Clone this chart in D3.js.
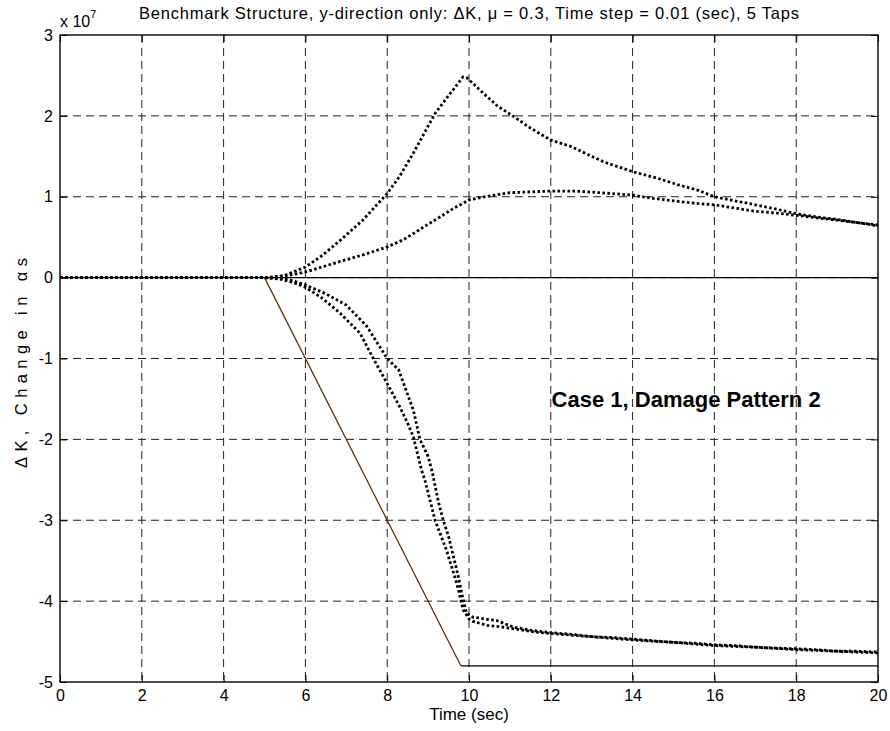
<!DOCTYPE html>
<html>
<head>
<meta charset="utf-8">
<script src="https://cdn.jsdelivr.net/npm/d3@7"></script>
<style>
  body { margin: 0; background: #fff; }
  svg { font-family: "Liberation Sans", Arial, sans-serif; }
</style>
</head>
<body>
<svg id="chart" width="890" height="731"></svg>
<script>
// values in units of 1e7, time in seconds
const xTicks = [0, 2, 4, 6, 8, 10, 12, 14, 16, 18, 20];
const yTicks = [3, 2, 1, 0, -1, -2, -3, -4, -5];

// tap estimates (dotted)
const tapA = [[0,0],[4.9,0],[5.2,0.005],[5.5,0.03],[6,0.13],[6.4,0.27],[6.85,0.46],[7.4,0.71],[8,1.04],[8.3,1.25],[8.64,1.54],[8.9,1.78],[9.17,2.03],[9.5,2.25],[9.7,2.38],[9.85,2.48],[9.95,2.47],[10.1,2.4],[10.35,2.28],[10.7,2.12],[11.1,1.99],[11.5,1.85],[12,1.70],[12.5,1.62],[13,1.50],[13.3,1.43],[14,1.31],[14.6,1.23],[15.1,1.15],[15.6,1.08],[16,1.0],[16.5,0.95],[17,0.9],[17.4,0.86],[18,0.79],[18.5,0.75],[19,0.72],[19.5,0.68],[20,0.64]];
const tapB = [[0,0],[5,0],[5.3,0.01],[5.62,0.03],[6,0.07],[6.4,0.13],[6.85,0.2],[7.4,0.28],[8,0.38],[8.4,0.47],[8.72,0.57],[9,0.66],[9.29,0.75],[9.6,0.85],[10,0.96],[10.5,1.01],[11,1.05],[11.5,1.06],[12,1.07],[12.6,1.07],[13.2,1.05],[14,1.02],[14.5,0.98],[15,0.95],[15.5,0.92],[16,0.9],[16.5,0.86],[17,0.82],[17.5,0.8],[18,0.77],[18.5,0.74],[19,0.71],[19.5,0.68],[20,0.65]];
const tapC = [[0,0],[5,0],[5.4,-0.01],[5.7,-0.04],[6,-0.09],[6.5,-0.2],[7,-0.34],[7.5,-0.6],[8,-1.0],[8.28,-1.14],[8.64,-1.64],[8.8,-2.0],[9.0,-2.21],[9.1,-2.4],[9.25,-2.77],[9.37,-3.0],[9.5,-3.2],[9.62,-3.45],[9.75,-3.72],[9.82,-3.9],[9.94,-4.15],[10.1,-4.2],[10.27,-4.21],[10.5,-4.23],[10.68,-4.24],[11.08,-4.32],[11.5,-4.36],[12,-4.39],[12.5,-4.41],[13,-4.44],[13.5,-4.45],[14,-4.47],[14.5,-4.49],[15,-4.51],[15.5,-4.52],[16,-4.54],[16.5,-4.55],[17,-4.57],[17.5,-4.58],[18,-4.59],[18.5,-4.6],[19,-4.62],[19.5,-4.62],[20,-4.63]];
const tapD = [[0,0],[5,0],[5.4,-0.02],[5.7,-0.06],[6,-0.12],[6.4,-0.25],[6.85,-0.44],[7.34,-0.69],[7.66,-1.0],[8,-1.31],[8.31,-1.6],[8.5,-1.8],[8.64,-1.97],[8.84,-2.38],[8.92,-2.5],[9.17,-3.0],[9.45,-3.37],[9.7,-3.78],[9.86,-4.11],[10.0,-4.22],[10.1,-4.25],[10.44,-4.3],[10.8,-4.32],[11.2,-4.35],[11.6,-4.38],[12,-4.4],[12.5,-4.42],[13,-4.44],[14,-4.48],[15,-4.51],[16,-4.55],[17,-4.57],[18,-4.6],[19,-4.62],[20,-4.64]];

// true damage (solid)
const trueRamp = [[5,0],[9.8,-4.8]];
const trueFlat = [[9.8,-4.8],[20,-4.8]];
const trueZero = [[0,0],[20,0]];

const W = 890, H = 731;
const margin = { top: 35, right: 12, bottom: 49, left: 60 };
const innerW = W - margin.left - margin.right;
const innerH = H - margin.top - margin.bottom;

const svg = d3.select('#chart');
const g = svg.append('g').attr('transform', `translate(${margin.left},${margin.top})`);

const x = d3.scaleLinear().domain([0, 20]).range([0, innerW]);
const y = d3.scaleLinear().domain([-5, 3]).range([innerH, 0]);

/*
 * Grid
 */
g.append('g').selectAll('line')
  .data(xTicks.slice(1, -1))
  .join('line')
  .attr('x1', d => x(d)).attr('x2', d => x(d))
  .attr('y1', 0).attr('y2', innerH)
  .attr('stroke', '#222').attr('stroke-width', 1)
  .attr('stroke-dasharray', '8,5');

g.append('g').selectAll('line')
  .data(yTicks.slice(1, -1))
  .join('line')
  .attr('y1', d => y(d)).attr('y2', d => y(d))
  .attr('x1', 0).attr('x2', innerW)
  .attr('stroke', '#222').attr('stroke-width', 1)
  .attr('stroke-dasharray', '8,5');

/*
 * Lines
 */
const line = d3.line().x(d => x(d[0])).y(d => y(d[1]));

g.append('path').datum(trueZero).attr('d', line)
  .attr('fill', 'none').attr('stroke', '#000').attr('stroke-width', 1.2);
g.append('path').datum(trueRamp).attr('d', line)
  .attr('fill', 'none').attr('stroke', '#4a2a0c').attr('stroke-width', 1.2);
g.append('path').datum(trueFlat).attr('d', line)
  .attr('fill', 'none').attr('stroke', '#000').attr('stroke-width', 1.2);

[tapA, tapB, tapC, tapD].forEach(series => {
  g.append('path').datum(series).attr('d', line)
    .attr('fill', 'none')
    .attr('stroke', '#000')
    .attr('stroke-width', 2.8)
    .attr('stroke-dasharray', '2.6,2.4');
});

/*
 * Axes (ticks inward on all four sides)
 */
const tickLen = 7;
const fmt = d => d3.format('d')(d).replace('−', '-');

g.append('g').attr('transform', `translate(0,${innerH})`)
  .call(d3.axisBottom(x).tickValues(xTicks).tickSizeInner(-tickLen).tickSizeOuter(0).tickPadding(8).tickFormat(fmt))
  .call(a => a.select('.domain').remove());
g.append('g')
  .call(d3.axisTop(x).tickValues(xTicks).tickSizeInner(-tickLen).tickSizeOuter(0).tickFormat(''))
  .call(a => a.select('.domain').remove());
g.append('g')
  .call(d3.axisLeft(y).tickValues(yTicks).tickSizeInner(-tickLen).tickSizeOuter(0).tickPadding(7).tickFormat(fmt))
  .call(a => a.select('.domain').remove());
g.append('g').attr('transform', `translate(${innerW},0)`)
  .call(d3.axisRight(y).tickValues(yTicks).tickSizeInner(-tickLen).tickSizeOuter(0).tickFormat(''))
  .call(a => a.select('.domain').remove());

g.selectAll('.tick line').attr('stroke', '#000').attr('stroke-width', 1);
g.selectAll('.tick text')
  .attr('fill', '#000')
  .style('font-family', '"Liberation Sans", Arial, sans-serif')
  .style('font-size', '16px');

// box
g.append('rect')
  .attr('width', innerW).attr('height', innerH)
  .attr('fill', 'none').attr('stroke', '#000').attr('stroke-width', 1.4);

/*
 * Text
 */
svg.append('text')
  .attr('x', margin.left + innerW / 2).attr('y', 19)
  .attr('text-anchor', 'middle')
  .attr('textLength', 660).attr('lengthAdjust', 'spacing')
  .style('font-size', '16.5px')
  .text('Benchmark Structure, y-direction only: ΔK, μ = 0.3, Time step = 0.01 (sec), 5 Taps');

const exp = svg.append('text')
  .attr('x', margin.left).attr('y', 27)
  .style('font-size', '16px');
exp.append('tspan').text('x 10');
exp.append('tspan').attr('dy', -9).style('font-size', '11px').text('7');

svg.append('text')
  .attr('x', margin.left + innerW / 2).attr('y', 720)
  .attr('text-anchor', 'middle')
  .style('font-size', '17px')
  .text('Time (sec)');

// y label: the original's tex rendering spreads it over ~210px
svg.append('text')
  .attr('transform', `translate(27,363) rotate(-90)`)
  .attr('text-anchor', 'middle')
  .attr('textLength', 210).attr('lengthAdjust', 'spacing')
  .style('font-size', '16.5px')
  .text('ΔK, Change in αs');

g.append('text')
  .attr('x', x(12.02)).attr('y', y(-1.6))
  .style('font-size', '22px').style('font-weight', 'bold')
  .text('Case 1, Damage Pattern 2');
</script>
</body>
</html>
